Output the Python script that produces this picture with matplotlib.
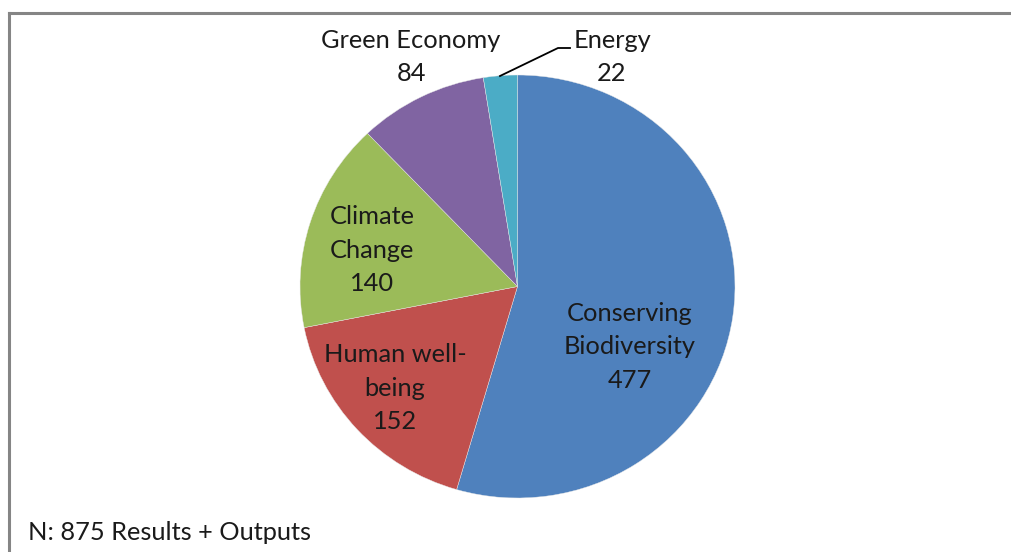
import matplotlib
matplotlib.use("Agg")
import matplotlib.pyplot as plt
from matplotlib.lines import Line2D

categories = ["Conserving\nBiodiversity", "Human well-\nbeing", "Climate\nChange", "Green Economy", "Energy"]
values = [477, 152, 140, 84, 22]
colors = ["#4F81BD", "#C0504D", "#9BBB59", "#8064A2", "#4BACC6"]
note = "N: 875 Results + Outputs"

plt.rcParams['font.family'] = ['Lato', 'DejaVu Sans']

W, H = 1012, 552
fig = plt.figure(figsize=(W / 100, H / 100), dpi=100)

# frame (top and left visible)
fig.add_artist(Line2D([9 / W, 1.0], [1 - 13 / H, 1 - 13 / H], color="#858585", lw=2.2, transform=fig.transFigure))
fig.add_artist(Line2D([9 / W, 9 / W], [0, 1 - 13 / H], color="#858585", lw=2.2, transform=fig.transFigure))

cx, cy, rx, ry = 517.5, 286.5, 217.5, 211.5
ax = fig.add_axes([(cx - rx) / W, (H - cy - ry) / H, 2 * rx / W, 2 * ry / H])
wedges, _ = ax.pie(values, colors=colors, startangle=90, counterclock=False, radius=1,
                   wedgeprops=dict(linewidth=0.3, edgecolor="#e8e8e8"))
ax.set_xlim(-1, 1)
ax.set_ylim(-1, 1)
ax.set_aspect('auto')
ax.axis('off')

fs = 18.3
tc = "#1a1a1a"

def px(x, y):
    return ((x - cx) / rx, (cy - y) / ry)

label_pos = [(630, 347), (395, 388), (372, 250), (411, 57), (612, 57)]
for name, v, (x, y) in zip(categories, values, label_pos):
    tx, ty = px(x, y)
    ax.text(tx, ty, f"{name}\n{v}", ha="center", va="center", fontsize=fs,
            color=tc, linespacing=1.55, clip_on=False)

# leader line for Energy
p1 = px(500, 76)
p2 = px(558, 48)
p3 = px(570, 48)
ax.plot([p1[0], p2[0], p3[0]], [p1[1], p2[1], p3[1]], color="black", lw=1.3, clip_on=False)

fig.text(28 / W, 1 - 533 / H, note, ha="left", va="center", fontsize=fs, color=tc)

fig.savefig("out.png", dpi=100, facecolor="white")
